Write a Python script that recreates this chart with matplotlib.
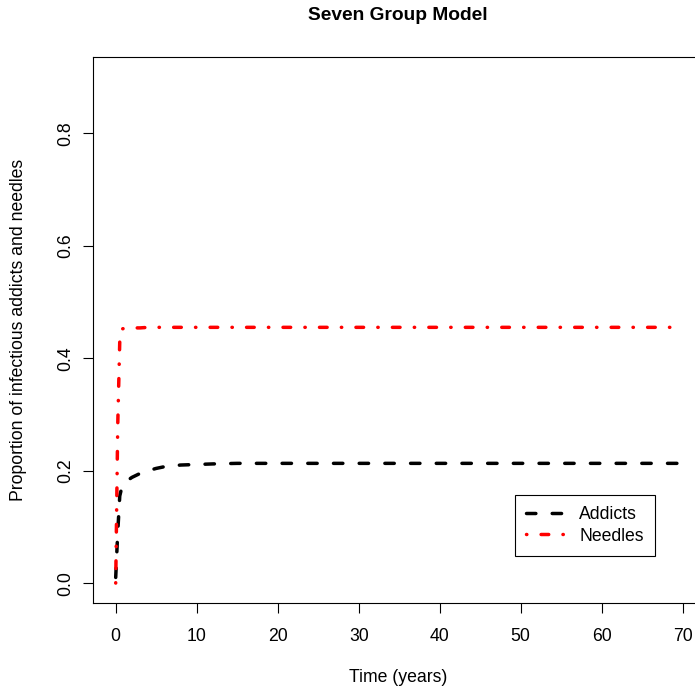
import matplotlib
matplotlib.use("Agg")
import matplotlib.pyplot as plt

plt.rcParams['font.family'] = ['Liberation Sans', 'DejaVu Sans']

time_years = [0, 0.25, 0.5, 0.75, 1, 1.5, 2, 3, 4, 5, 6, 8, 10, 12, 15, 20, 25, 30, 35, 40, 45, 50, 55, 60, 65, 70]
addicts = [0.010, 0.090, 0.155, 0.170, 0.176, 0.183, 0.188, 0.195, 0.200, 0.204, 0.207, 0.210, 0.211,
           0.212, 0.213, 0.213, 0.213, 0.213, 0.213, 0.213, 0.213, 0.213, 0.213, 0.213, 0.213, 0.213]
needles = [0.000, 0.280, 0.430, 0.452, 0.453, 0.454, 0.454, 0.454, 0.455, 0.455, 0.455, 0.455, 0.455,
           0.455, 0.455, 0.455, 0.455, 0.455, 0.455, 0.455, 0.455, 0.455, 0.455, 0.455, 0.455, 0.455]
x_ticks = [0, 10, 20, 30, 40, 50, 60, 70]
y_ticks = [0.0, 0.2, 0.4, 0.6, 0.8]
y_tick_labels = ["0.0", "0.2", "0.4", "0.6", "0.8"]

fig = plt.figure(figsize=(6.95, 6.92), dpi=100)
W, H = 695, 692
left_px, right_px, top_px, bottom_px = 92.7, 705.7, 57, 603.3
ax = fig.add_axes([left_px / W, 1 - bottom_px / H, (right_px - left_px) / W, (bottom_px - top_px) / H])

lw = 2.5
ax.plot(time_years, addicts, color='black', lw=lw, dashes=(2.7, 4.7),
        dash_capstyle='round', solid_capstyle='round', label='Addicts')
ax.plot(time_years, needles, color='red', lw=lw, dashes=(0.1, 4.1, 2.2, 4.1),
        dash_capstyle='round', solid_capstyle='round', label='Needles')

ax.set_xlim(-2.84, 72.84)
ax.set_ylim(-0.036, 0.936)
ax.set_xticks(x_ticks)
ax.set_yticks(y_ticks)
ax.set_yticklabels(y_tick_labels, rotation=90, va='center')
ax.tick_params(direction='out', length=7.5, width=0.8, labelsize=12.7, pad=10)
ax.tick_params(axis='y', pad=6)
for s in ax.spines.values():
    s.set_linewidth(0.8)
    s.set_color('black')

fig.text(398 / W, 1 - 677 / H, "Time (years)", ha='center', va='center', fontsize=12.7)
fig.text(19 / W, 1 - 330 / H, "Proportion of infectious addicts and needles", ha='center', va='center',
         rotation=90, fontsize=12.7)
fig.text(398 / W, 1 - 15 / H, "Seven Group Model", ha='center', va='center', fontsize=13.8, fontweight='bold')

leg = ax.legend(loc='lower right', bbox_to_anchor=((655 - left_px) / (right_px - left_px),
                                                   (bottom_px - 556) / (bottom_px - top_px)),
                fontsize=12.7, frameon=True, fancybox=False, edgecolor='black', framealpha=1,
                handlelength=2.3, handletextpad=0.7, borderpad=0.65, labelspacing=0.25, borderaxespad=0)
leg.get_frame().set_linewidth(0.8)

fig.savefig("out.png", dpi=100)
